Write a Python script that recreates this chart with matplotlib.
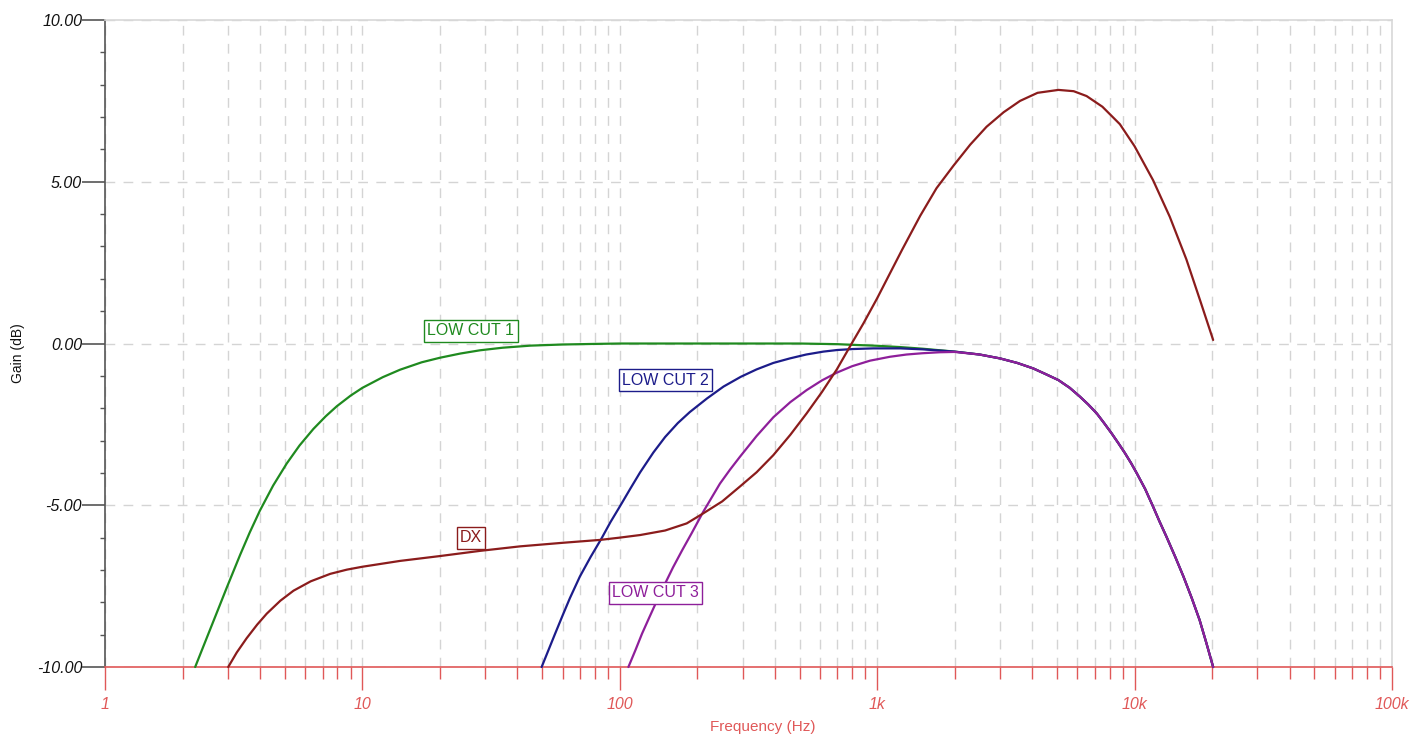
import numpy as np
import matplotlib
matplotlib.use('Agg')
import matplotlib.pyplot as plt
from matplotlib.ticker import FixedLocator, LogLocator, NullFormatter

plt.rcParams['font.family'] = ['Liberation Sans', 'DejaVu Sans']

# common high-frequency roll-off of the three LOW CUT curves
roll_f = [2500, 3000, 3500, 4040, 4500, 5060, 5600, 6130, 6600, 7130, 7600, 8150, 8650,
          9180, 9700, 10200, 11000, 11800, 12500, 13300, 14400, 15500, 16700, 17900,
          19000, 20200]
roll_g = [-0.34, -0.46, -0.6, -0.77, -0.94, -1.13, -1.37, -1.64, -1.88, -2.16, -2.45,
          -2.78, -3.08, -3.39, -3.7, -4.01, -4.5, -5.04, -5.5, -5.97, -6.6, -7.21, -7.88,
          -8.55, -9.25, -10]

# LOW CUT 1
f1 = [2.24, 2.4, 2.56, 2.75, 2.97, 3.35, 3.65, 4.0, 4.5, 5.08, 5.7, 6.45, 7.2, 7.95, 9,
      10, 12, 14, 17, 20, 24, 28.6, 35, 45, 60, 80, 100, 200, 500, 700, 800, 1000, 1230,
      1500, 2000]
g1 = [-10, -9.4, -8.84, -8.22, -7.55, -6.53, -5.84, -5.16, -4.39, -3.71, -3.15, -2.64,
      -2.25, -1.94, -1.61, -1.37, -1.04, -0.81, -0.58, -0.44, -0.31, -0.21, -0.13, -0.065,
      -0.03, -0.012, 0, 0, 0, -0.02, -0.04, -0.07, -0.11, -0.16, -0.25]

# LOW CUT 2
f2 = [49.7, 53, 56, 60, 64, 70, 77, 85, 92, 100, 110, 120, 135, 150, 168, 187, 218, 253,
      295, 340, 395, 458, 530, 618, 700, 808, 966, 1230, 1500, 2000]
g2 = [-10, -9.45, -8.98, -8.4, -7.87, -7.2, -6.6, -6.02, -5.52, -5.04, -4.48, -3.98,
      -3.37, -2.89, -2.46, -2.12, -1.7, -1.33, -1.03, -0.80, -0.6, -0.46, -0.34, -0.25,
      -0.2, -0.17, -0.15, -0.15, -0.18, -0.25]

# LOW CUT 3
f3 = [108, 115, 122, 130, 139, 150, 161, 175, 190, 211, 245, 268, 293, 340, 395, 460, 532,
      610, 697, 800, 938, 1120, 1300, 1500, 1750, 2000]
g3 = [-10, -9.48, -8.97, -8.48, -7.97, -7.42, -6.92, -6.38, -5.87, -5.2, -4.33, -3.9,
      -3.5, -2.86, -2.28, -1.81, -1.44, -1.14, -0.9, -0.7, -0.53, -0.41, -0.34, -0.3,
      -0.27, -0.26]

# DX
fdx = [3.01, 3.25, 3.55, 3.9, 4.25, 4.8, 5.4, 6.3, 7.5, 8.7, 10, 14, 20, 28.6, 41, 60, 84,
       100, 120, 150, 182, 211, 250, 293, 340, 395, 460, 532, 610, 697, 796, 884, 1000,
       1090, 1250, 1470, 1700, 1980, 2300, 2660, 3100, 3590, 4200, 5060, 5800, 6510, 7500,
       8770, 10000, 11800, 13700, 15900, 18000, 20200]
gdx = [-10, -9.55, -9.11, -8.69, -8.35, -7.95, -7.64, -7.35, -7.12, -6.99, -6.9, -6.72,
       -6.57, -6.41, -6.27, -6.16, -6.07, -6.0, -5.92, -5.78, -5.56, -5.25, -4.88, -4.42,
       -3.98, -3.45, -2.82, -2.16, -1.5, -0.8, 0.0, 0.62, 1.4, 1.98, 2.9, 3.95, 4.8, 5.5,
       6.15, 6.70, 7.15, 7.5, 7.75, 7.84, 7.8, 7.65, 7.32, 6.78, 6.1, 5.05, 3.92, 2.6,
       1.32, 0.11]

series = [
    (f1 + roll_f, g1 + roll_g, '#1f8a1f', 'LOW CUT 1', 26.4, 0.39),
    (f2 + roll_f, g2 + roll_g, '#1c1c8a', 'LOW CUT 2', 151, -1.13),
    (f3 + roll_f, g3 + roll_g, '#8e1f9a', 'LOW CUT 3', 138, -7.71),
    (fdx, gdx, '#8b1c1c', 'DX', 26.4, -6.01),
]

fig = plt.figure(figsize=(14.25, 7.39), dpi=100)
ax = fig.add_axes([0.0737, 0.0974, 0.9031, 0.8755])

ax.set_xscale('log')
ax.set_xlim(1, 1e5)
ax.set_ylim(-10, 10)

# ticks + grid
ax.xaxis.set_major_locator(FixedLocator([1, 10, 100, 1e3, 1e4, 1e5]))
ax.xaxis.set_minor_locator(LogLocator(base=10, subs=np.arange(2, 10), numticks=20))
ax.xaxis.set_minor_formatter(NullFormatter())
ax.set_xticklabels(['1', '10', '100', '1k', '10k', '100k'])
ax.set_yticks([-10, -5, 0, 5, 10])
ax.set_yticks(np.arange(-10, 11, 1), minor=True)
ax.set_yticklabels(['-10.00', '-5.00', '0.00', '5.00', '10.00'])
ax.grid(True, which='both', axis='x', color='#d4d4d4', linestyle=(0, (7, 6)), linewidth=1)
ax.grid(True, which='major', axis='y', color='#d4d4d4', linestyle=(0, (7, 6)), linewidth=1)

red = '#e05858'
ax.spines['bottom'].set_color(red)
ax.spines['left'].set_color('#555555')
ax.spines['top'].set_color('#d8d8d8')
ax.spines['right'].set_color('#d8d8d8')
for s in ax.spines.values():
    s.set_linewidth(1.2)
# tick lengths in points (dpi 100): 23px major, 12px minor on x, 5px minor on y
ax.tick_params(axis='x', which='major', colors=red, length=16.5, width=1, labelsize=11.5, pad=5)
ax.tick_params(axis='x', which='minor', colors=red, length=8.6, width=1)
ax.tick_params(axis='y', which='major', colors='#555555', length=16.5, width=1.2,
               labelsize=11.5, labelcolor='#111111', pad=0)
ax.tick_params(axis='y', which='minor', colors='#555555', length=3.6, width=1)
for t in ax.get_xticklabels() + ax.get_yticklabels():
    t.set_fontstyle('italic')

for f, g, c, name, lx, ly in series:
    ax.plot(f, g, color=c, linewidth=1.6, solid_capstyle='round', clip_on=False, zorder=3)
    ax.text(lx, ly, name, color=c, fontsize=11.5, ha='center', va='center', zorder=4,
            bbox=dict(boxstyle='square,pad=0.2', facecolor='white', edgecolor=c, linewidth=1))

ax.set_xlabel('Frequency (Hz)', color=red, fontsize=11)
ax.set_ylabel('Gain (dB)', color='#111111', fontsize=10)
ax.xaxis.set_label_coords(0.511, -0.082)
ax.yaxis.set_label_coords(-0.0622, 0.485)

fig.savefig('out.png', dpi=100)
